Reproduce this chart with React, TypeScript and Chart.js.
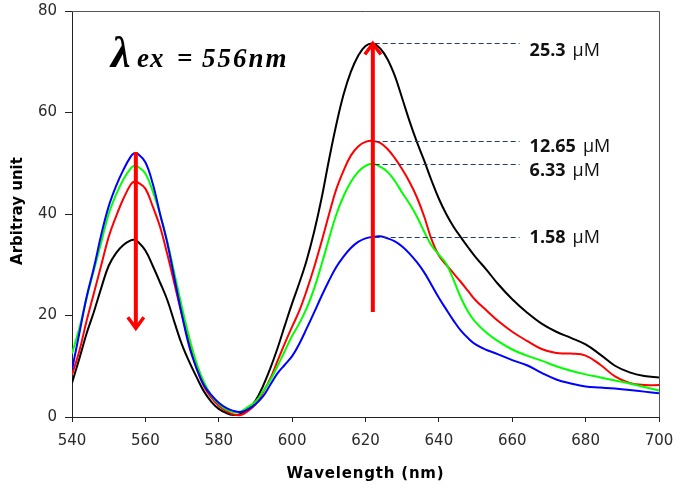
import { useEffect, useRef } from 'react';
import { Chart, registerables } from 'chart.js';
Chart.register(...registerables);

// Wavelength sample points (nm)
const wavelengths = [540,542,544,546,548,550,552,554,556,557,558,560,562,564,566,568,570,572,574,576,578,580,582,584,586,588,590,592,594,596,598,600,602,604,606,608,610,612,614,616,618,620,622,624,626,628,630,632,634,636,638,640,642,644,646,648,650,653,656,660,664,668,672,676,680,684,688,692,696,700];

// Emission intensities (arbitrary units)
const black25_3 = [6.7,11.5,16.5,20.8,25.5,29.8,32.3,33.9,34.8,34.9,34.5,32.8,29.8,26.5,23,18.5,14.2,10.8,7.8,5,3,1.6,0.8,0.4,0.6,1.6,3.2,6,9.5,13.5,18,22.4,26.5,31,36.5,43,50.5,57.5,63.5,68,71.2,73.1,73.6,72.6,70.5,67.2,62.8,58.3,54.2,50.5,46.6,43,40,37.5,35.4,33.4,31.5,29,26.3,23.2,20.6,18.4,16.8,15.6,14.3,12.3,10.1,8.8,8.1,7.8];
const red12_65 = [8.3,13,19,24.5,30,35.5,39.5,43,45.8,46.4,46.2,45,41.5,37.5,32,26,20,14.5,9.5,6,3.8,2.2,1.2,0.5,0.4,1.2,2.5,4.8,7.5,11,14.5,17.8,21,25,29.5,34.5,39.8,44.8,48.5,51.5,53.3,54.2,54.4,54,52.8,51,48.8,46.3,43.3,39.5,35,31.8,30,28.3,26.6,24.8,23,21,19,16.8,15,13.4,12.6,12.5,12.1,10.3,8,6.7,6.3,6.3];
const green6_33 = [12.5,17.5,23.5,29,34.5,40,43.8,46.8,49,49.5,49.3,48,44.5,40,34.5,28,21.5,15.5,10.5,6.8,4.2,2.6,1.5,1,1.1,2,3,5,7.2,10,13,16,18.5,21.5,25.3,30,35,39.8,43.5,46.3,48.3,49.5,49.9,49.3,48.3,46.5,44.2,42,39.5,36.5,33.8,32,30.2,27,23.5,20.7,18.7,16.6,15,13.3,12.1,11.1,10,9.1,8.4,7.8,7.2,6.6,5.9,5.2];
const blue1_58 = [9.3,16.5,23.7,29.5,36,41.5,45.5,48.7,51.3,52,51.8,50.2,46,40,34.2,27,20,13.8,9.5,6.2,4.3,2.8,1.8,1.2,1,1.5,2.5,4,6.3,8.6,10.3,12,14.5,17.5,20.6,23.8,26.8,29.5,31.6,33.3,34.5,35.2,35.5,35.6,35.2,34.6,33.6,32.2,30.5,28.5,26,23.5,21.2,19,17,15.5,14.3,13.2,12.4,11.2,10.2,8.7,7.4,6.6,6,5.8,5.6,5.3,5,4.7];

// Axis ticks
const xTicks = [540,560,580,600,620,640,660,680,700];
const yTicks = [0,20,40,60,80];

// Concentration annotations (label, peak value of matching curve at ~622 nm)
const concLabels = ['25.3', '12.65', '6.33', '1.58'];
const concPeaks = [73.6, 54.4, 49.9, 35.5];
const concPeakX = 622.5;
const concLineEndX = 662;

// Red arrows: [x, start value, tip value]
const upArrow = [622, 20.7, 73.6];
const downArrow = [557.4, 52.2, 17.5];

const lambdaPos = [551.2, 69]; // data coordinates of excitation annotation

const mk = (vals: number[], color: string) => ({
  data: wavelengths.map((w, i) => ({ x: w, y: vals[i] })),
  borderColor: color,
  backgroundColor: color,
  borderWidth: 2,
  pointRadius: 0,
  tension: 0.4,
  fill: false,
});

function arrow(ctx: CanvasRenderingContext2D, x: number, y0: number, y1: number) {
  const dir = y1 < y0 ? 1 : -1; // 1: pointing up
  ctx.strokeStyle = '#ff0000';
  ctx.lineWidth = 4;
  ctx.lineCap = 'butt';
  ctx.beginPath();
  ctx.moveTo(x, y0);
  ctx.lineTo(x, y1 + dir * 2);
  ctx.stroke();
  ctx.lineWidth = 3.5;
  ctx.lineJoin = 'miter';
  ctx.beginPath();
  ctx.moveTo(x - 8, y1 + dir * 11);
  ctx.lineTo(x, y1);
  ctx.lineTo(x + 8, y1 + dir * 11);
  ctx.stroke();
}

const overlay = {
  id: 'overlay',
  afterDatasetsDraw(chart: any) {
    const { ctx, chartArea: a, scales } = chart;
    const xs = scales.x, ys = scales.y;
    ctx.save();
    // top & right frame
    ctx.strokeStyle = '#555';
    ctx.lineWidth = 1;
    ctx.beginPath();
    ctx.moveTo(a.left, Math.round(a.top) + 0.5);
    ctx.lineTo(Math.round(a.right) + 0.5, Math.round(a.top) + 0.5);
    ctx.lineTo(Math.round(a.right) + 0.5, a.bottom);
    ctx.stroke();

    // dashed concentration lines + labels
    ctx.strokeStyle = '#243b63';
    ctx.lineWidth = 1;
    ctx.setLineDash([5, 3]);
    const x0 = xs.getPixelForValue(concPeakX);
    const x1 = xs.getPixelForValue(concLineEndX);
    concPeaks.forEach((v) => {
      const y = Math.round(ys.getPixelForValue(v)) + 0.5;
      ctx.beginPath();
      ctx.moveTo(x0, y);
      ctx.lineTo(x1, y);
      ctx.stroke();
    });
    ctx.setLineDash([]);
    const offs = [7, 6, 7, 1];
    concLabels.forEach((lab, i) => {
      const y = ys.getPixelForValue(concPeaks[i]) + offs[i];
      const lx = x1 + 10;
      ctx.fillStyle = '#111';
      ctx.textBaseline = 'middle';
      ctx.textAlign = 'left';
      ctx.font = 'bold 18px "Open Sans"';
      ctx.fillText(lab, lx, y);
      const w = ctx.measureText(lab).width;
      ctx.font = '18px "Open Sans"';
      ctx.fillText('\u03bcM', lx + w + 7, y);
    });

    // arrows
    arrow(ctx, xs.getPixelForValue(upArrow[0]), ys.getPixelForValue(upArrow[1]), ys.getPixelForValue(upArrow[2]));
    arrow(ctx, xs.getPixelForValue(downArrow[0]), ys.getPixelForValue(downArrow[1]), ys.getPixelForValue(downArrow[2]));

    // excitation annotation
    const lx = xs.getPixelForValue(lambdaPos[0]);
    const ly = ys.getPixelForValue(lambdaPos[1]);
    ctx.fillStyle = '#000';
    ctx.textBaseline = 'alphabetic';
    ctx.textAlign = 'left';
    ctx.font = 'italic bold 44px "Liberation Serif"';
    ctx.fillText('\u03bb', lx - 2, ly);
    ctx.font = 'italic bold 27px "Liberation Serif"';
    (ctx as any).letterSpacing = '1px';
    ctx.fillText('ex', lx + 24, ly);
    ctx.fillText('=', lx + 64, ly);
    (ctx as any).letterSpacing = '2px';
    ctx.fillText('556nm', lx + 89, ly);
    (ctx as any).letterSpacing = '0px';

    // axis titles
    ctx.fillStyle = '#000';
    ctx.font = 'bold 15px "DejaVu Sans"';
    ctx.textAlign = 'center';
    ctx.textBaseline = 'alphabetic';
    (ctx as any).letterSpacing = '0.8px';
    ctx.fillText('Wavelength (nm)', (a.left + a.right) / 2, 478);
    (ctx as any).letterSpacing = '0px';
    ctx.translate(22, (a.top + a.bottom) / 2 - 3);
    ctx.rotate(-Math.PI / 2);
    ctx.fillText('Arbitray unit', 0, 0);
    ctx.restore();
  },
};

export default function App() {
  const ref = useRef<HTMLCanvasElement>(null);
  useEffect(() => {
    document.body.style.margin = '0';
    const tickFont = { family: '"DejaVu Sans"', size: 15 };
    const chart = new Chart(ref.current!, {
      type: 'line',
      data: {
        datasets: [
          mk(blue1_58, '#0000ff'),
          mk(green6_33, '#00ff00'),
          mk(red12_65, '#ff0000'),
          mk(black25_3, '#000000'),
        ],
      },
      options: {
        responsive: false,
        devicePixelRatio: 1,
        animation: false,
        layout: { padding: { top: 11, right: 21, left: 0, bottom: 0 } },
        plugins: { legend: { display: false }, tooltip: { enabled: false } },
        scales: {
          x: {
            type: 'linear',
            min: 540,
            max: 700,
            afterBuildTicks: (s: any) => { s.ticks = xTicks.map((v) => ({ value: v })); },
            ticks: { color: '#2a2a2a', font: tickFont, padding: 10, maxRotation: 0 },
            grid: { drawOnChartArea: false, tickLength: 5, color: '#222' },
            border: { color: '#222' },
            afterFit: (s: any) => { s.height = 74; s.paddingLeft = 0; s.paddingRight = 0; },
          },
          y: {
            min: 0,
            max: 80,
            afterBuildTicks: (s: any) => { s.ticks = yTicks.map((v) => ({ value: v })); },
            ticks: { color: '#2a2a2a', font: tickFont, padding: 8 },
            grid: { drawOnChartArea: false, tickLength: 7, color: '#222' },
            border: { color: '#222' },
            afterFit: (s: any) => { s.width = 72; s.paddingTop = 0; s.paddingBottom = 0; },
          },
        },
      },
      plugins: [overlay],
    } as any);
    return () => chart.destroy();
  }, []);
  return (
    <div style={{ position: 'fixed', left: 0, top: 0, width: 680, height: 491, background: '#fff' }}>
      <canvas ref={ref} width={680} height={491} style={{ width: 680, height: 491 }} />
    </div>
  );
}
